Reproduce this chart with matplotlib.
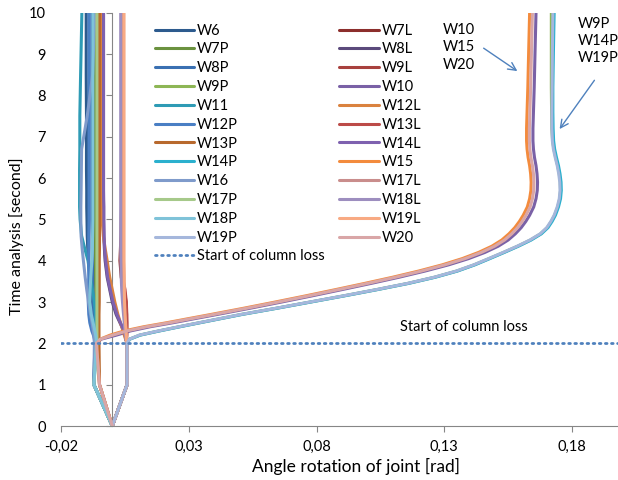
import numpy as np
from matplotlib import pyplot as plt

plt.rcParams['font.family'] = ['Lato', 'DejaVu Sans']

# time grid [s] for the series that stay near zero
t = [0, 1, 2, 2.1, 2.2, 2.3, 2.5, 2.7, 3.0, 3.3, 3.6, 4.0, 4.3, 4.6, 5.0, 5.3, 5.7, 6.2, 6.7, 7.5, 8.5, 10]
# finer time grid for the six series that rotate far
t_far = [0, 1, 2, 2.1, 2.2, 2.3, 2.4, 2.5, 2.6, 2.7, 2.85, 3.0, 3.15, 3.3, 3.45, 3.6, 3.75, 3.9, 4.05, 4.2,
         4.35, 4.5, 4.65, 4.8, 4.95, 5.1, 5.3, 5.5, 5.7, 5.9, 6.1, 6.3, 6.5, 6.7, 6.9, 7.2, 7.6, 8.2, 9.0, 10]

# joint rotation [rad]
w6 = [0, -.0072, -.0068, -.0068, -.0069, -.0070, -.0072, -.0075, -.0080, -.0085, -.0089, -.0093, -.0096, -.0098, -.0099, -.0100, -.0100, -.0101, -.0101, -.0101, -.0102, -.0102]
w7p = [0, -.0072, -.0064, -.0064, -.0064, -.0064, -.0064, -.0065, -.0065, -.0065, -.0066, -.0066, -.0066, -.0066, -.0066, -.0066, -.0066, -.0066, -.0066, -.0066, -.0066, -.0066]
w8p = [0, -.0072, -.0066, -.0066, -.0067, -.0068, -.0070, -.0072, -.0074, -.0076, -.0077, -.0078, -.0079, -.0079, -.0080, -.0080, -.0080, -.0080, -.0080, -.0080, -.0080, -.0080]
w11 = [0, -.0072, -.0062, -.0062, -.0063, -.0064, -.0065, -.0066, -.0070, -.0078, -.0086, -.0095, -.0108, -.0120, -.0126, -.0128, -.0128, -.0128, -.0127, -.0127, -.0124, -.0119]
w12p = [0, -.0072, -.0068, -.0070, -.0074, -.0080, -.0088, -.0092, -.0094, -.0093, -.0092, -.0092, -.0092, -.0092, -.0091, -.0091, -.0091, -.0091, -.0091, -.0091, -.0091, -.0091]
w13p = [0, -.0050, -.0052, -.0052, -.0052, -.0052, -.0052, -.0052, -.0051, -.0051, -.0051, -.0051, -.0050, -.0050, -.0050, -.0050, -.0050, -.0050, -.0050, -.0050, -.0050, -.0050]
w16 = [0, -.0072, -.0070, -.0071, -.0072, -.0074, -.0079, -.0085, -.0093, -.0100, -.0106, -.0113, -.0118, -.0122, -.0123, -.0123, -.0122, -.0121, -.0120, -.0098, -.0077, -.0068]
w17p = [0, -.0072, -.0060, -.0060, -.0060, -.0060, -.0060, -.0060, -.0060, -.0060, -.0060, -.0060, -.0060, -.0060, -.0060, -.0060, -.0060, -.0060, -.0060, -.0060, -.0060, -.0060]
w18p = [0, -.0072, -.0062, -.0063, -.0065, -.0068, -.0075, -.0082, -.0088, -.0087, -.0084, -.0080, -.0078, -.0077, -.0076, -.0076, -.0076, -.0076, -.0076, -.0076, -.0076, -.0076]

w7l = [0, .0058, .0058, .0055, .0056, .0056, .0056, .0055, .0053, .0045, .0035, .0030, .0032, .0034, .0035, .0036, .0036, .0037, .0037, .0037, .0037, .0037]
w8l = [0, .0058, .0058, .0053, .0050, .0045, .0030, .0015, .0000, -.0010, -.0020, -.0028, -.0031, -.0033, -.0034, -.0034, -.0035, -.0035, -.0035, -.0035, -.0035, -.0035]
w9l = [0, .0058, .0058, .0056, .0057, .0057, .0057, .0056, .0054, .0047, .0038, .0033, .0034, .0036, .0037, .0038, .0038, .0039, .0039, .0039, .0039, .0039]
w12l = [0, .0058, .0058, .0052, .0047, .0042, .0032, .0022, .0010, .0000, -.0010, -.0020, -.0028, -.0035, -.0040, -.0043, -.0045, -.0046, -.0046, -.0046, -.0046, -.0046]
w13l = [0, .0058, .0058, .0056, .0056, .0057, .0057, .0057, .0055, .0050, .0040, .0035, .0036, .0037, .0038, .0039, .0040, .0040, .0040, .0040, .0040, .0040]
w14l = [0, .0058, .0058, .0054, .0051, .0046, .0032, .0018, .0003, -.0008, -.0018, -.0026, -.0030, -.0032, -.0033, -.0033, -.0034, -.0034, -.0034, -.0034, -.0034, -.0034]
w17l = [0, .0058, .0058, .0055, .0054, .0053, .0051, .0049, .0047, .0046, .0045, .0044, .0044, .0044, .0044, .0044, .0044, .0044, .0044, .0044, .0044, .0044]
w18l = [0, .0058, .0058, .0054, .0052, .0050, .0047, .0044, .0040, .0037, .0035, .0034, .0033, .0033, .0033, .0033, .0033, .0033, .0033, .0033, .0033, .0033]
w19l = [0, .0058, .0058, .0055, .0055, .0054, .0052, .0050, .0048, .0047, .0047, .0046, .0046, .0046, .0046, .0046, .0046, .0046, .0046, .0046, .0046, .0046]

# far-rotating series (on t_far)
w15 = [0, -.0050, -.0062, -.0048, -.0008, .0046, .0122, .0214, .0300, .0387, .0515, .0638, .0758, .0874, .0988, .1098,
       .1200, .1292, .1370, .1434, .1486, .1525, .1553, .1576, .1594, .1609, .1625, .1634, .1639, .1640, .1638, .1634,
       .1628, .1624, .1622, .1622, .1624, .1627, .1630, .1634]
w20 = [0, -.0050, -.0062, -.0047, .0003, .0057, .0133, .0225, .0311, .0398, .0526, .0649, .0769, .0885, .0999, .1109,
       .1211, .1303, .1381, .1445, .1497, .1536, .1564, .1587, .1605, .1620, .1636, .1645, .1650, .1651, .1649, .1645,
       .1639, .1635, .1633, .1633, .1635, .1638, .1641, .1645]
w10 = [0, -.0050, -.0060, -.0044, .0017, .0071, .0147, .0239, .0325, .0412, .0540, .0663, .0783, .0899, .1013, .1123,
       .1225, .1317, .1395, .1459, .1511, .1550, .1578, .1601, .1619, .1634, .1650, .1659, .1664, .1665, .1663, .1659,
       .1653, .1649, .1647, .1647, .1649, .1652, .1655, .1659]
w14p = [0, .0058, .0058, .0068, .0110, .0185, .0264, .0345, .0427, .0509, .0646, .0778, .0910, .1038, .1160, .1265,
        .1352, .1420, .1478, .1535, .1590, .1640, .1680, .1706, .1722, .1735, .1747, .1755, .1758, .1757, .1753, .1747,
        .1739, .1732, .1728, .1726, .1725, .1725, .1727, .1730]
w9p = [0, .0058, .0058, .0067, .0108, .0182, .0261, .0342, .0424, .0506, .0643, .0775, .0907, .1035, .1157, .1262,
       .1349, .1417, .1475, .1532, .1587, .1637, .1677, .1703, .1719, .1732, .1744, .1752, .1755, .1754, .1750, .1744,
       .1736, .1729, .1724, .1721, .1720, .1719, .1719, .1719]
w19p = [0, .0058, .0058, .0067, .0106, .0180, .0259, .0340, .0422, .0504, .0641, .0773, .0905, .1033, .1155, .1260,
        .1347, .1415, .1473, .1530, .1585, .1635, .1675, .1701, .1717, .1730, .1742, .1750, .1753, .1752, .1748, .1742,
        .1734, .1727, .1723, .1721, .1721, .1722, .1723, .1725]

loss_time = 2
xticks = [-0.02, 0.03, 0.08, 0.13, 0.18]
xtick_labels = ['-0,02', '0,03', '0,08', '0,13', '0,18']

# (label, rotations, times, colour) in the spreadsheet's series order
series = [
    ('W6', w6, t, '#2d5b8e'), ('W7L', w7l, t, '#8c2e2c'),
    ('W7P', w7p, t, '#6b923f'), ('W8L', w8l, t, '#5b4a7c'),
    ('W8P', w8p, t, '#3a70b2'), ('W9L', w9l, t, '#a8413e'),
    ('W9P', w9p, t_far, '#8db655'), ('W10', w10, t_far, '#7a61a6'),
    ('W11', w11, t, '#2e9bb5'), ('W12L', w12l, t, '#da823f'),
    ('W12P', w12p, t, '#4a7fc4'), ('W13L', w13l, t, '#bc4b48'),
    ('W13P', w13p, t, '#b8692d'), ('W14L', w14l, t, '#7e61af'),
    ('W14P', w14p, t_far, '#2bb0ce'), ('W15', w15, t_far, '#f38b3d'),
    ('W16', w16, t, '#7f9bcb'), ('W17L', w17l, t, '#c98d8c'),
    ('W17P', w17p, t, '#a6c98a'), ('W18L', w18l, t, '#9d8ebf'),
    ('W18P', w18p, t, '#7fc3d9'), ('W19L', w19l, t, '#f8aa83'),
    ('W19P', w19p, t_far, '#a5b7dc'), ('W20', w20, t_far, '#d9a6a7'),
]

fig = plt.figure(figsize=(6.18, 4.8), dpi=100)
ax = fig.add_axes([0.099, 0.1125, 0.901, 0.861])

lines = {}
for name, x, tt, c in series:
    lines[name], = ax.plot(x, tt, color=c, lw=2.2, solid_capstyle='round', solid_joinstyle='round')

loss, = ax.plot([-0.02, 0.198], [loss_time, loss_time], color='#4f81bd', lw=2, ls=(0, (0.6, 1.6)),
                dash_capstyle='round', label='Start of column loss')

ax.set_xlim(-0.02, 0.198)
ax.set_ylim(0, 10)
ax.set_xticks(xticks)
ax.set_xticklabels(xtick_labels)
ax.set_yticks(range(11))

for s in ['top', 'right', 'left']:
    ax.spines[s].set_visible(False)
ax.spines['bottom'].set_color('#868686')
ax.tick_params(axis='x', direction='out', length=4, color='#868686', labelsize=10.5, pad=6)
ax.tick_params(axis='y', length=0, labelsize=10.5, pad=11)

# vertical axis line through x = 0
yax = ax.secondary_yaxis(0.02 / 0.218)
yax.set_yticks(range(11))
yax.set_yticklabels([])
yax.spines['left'].set_color('#868686')
yax.tick_params(direction='out', length=4, color='#868686')

ax.set_xlabel('Angle rotation of joint [rad]', fontsize=12.5)
ax.xaxis.set_label_coords(0.53, -0.078)
ax.set_ylabel('Time analysis [second]', fontsize=11.5)
ax.yaxis.set_label_coords(-0.066, 0.46)

left_col = ['W6', 'W7P', 'W8P', 'W9P', 'W11', 'W12P', 'W13P', 'W14P', 'W16', 'W17P', 'W18P', 'W19P']
right_col = ['W7L', 'W8L', 'W9L', 'W10', 'W12L', 'W13L', 'W14L', 'W15', 'W17L', 'W18L', 'W19L', 'W20']
handles = [lines[n] for n in left_col] + [loss] + [lines[n] for n in right_col]
labels = left_col + ['Start of column loss'] + right_col
fig.legend(handles, labels, ncol=2, loc='upper left', bbox_to_anchor=(0.229, 0.978),
           frameon=False, fontsize=10.5, handlelength=2.7, labelspacing=0.33,
           handletextpad=0.2, columnspacing=1.0)

ax.text(0.1126, 2.39, 'Start of column loss', fontsize=10.5, va='center', ha='left')

ax.text(0.1294, 9.75, 'W10\nW15\nW20', fontsize=10.5, va='top', ha='left', linespacing=1.3)
ax.annotate('', xy=(0.1595, 8.55), xytext=(0.1445, 9.18),
            arrowprops=dict(arrowstyle='->', color='#4f81bd', lw=1, mutation_scale=14))
ax.text(0.1822, 9.9, 'W9P\nW14P\nW19P', fontsize=10.5, va='top', ha='left', linespacing=1.3)
ax.annotate('', xy=(0.1745, 7.13), xytext=(0.1894, 8.42),
            arrowprops=dict(arrowstyle='->', color='#4f81bd', lw=1, mutation_scale=14))

fig.savefig('out.png', dpi=100)
